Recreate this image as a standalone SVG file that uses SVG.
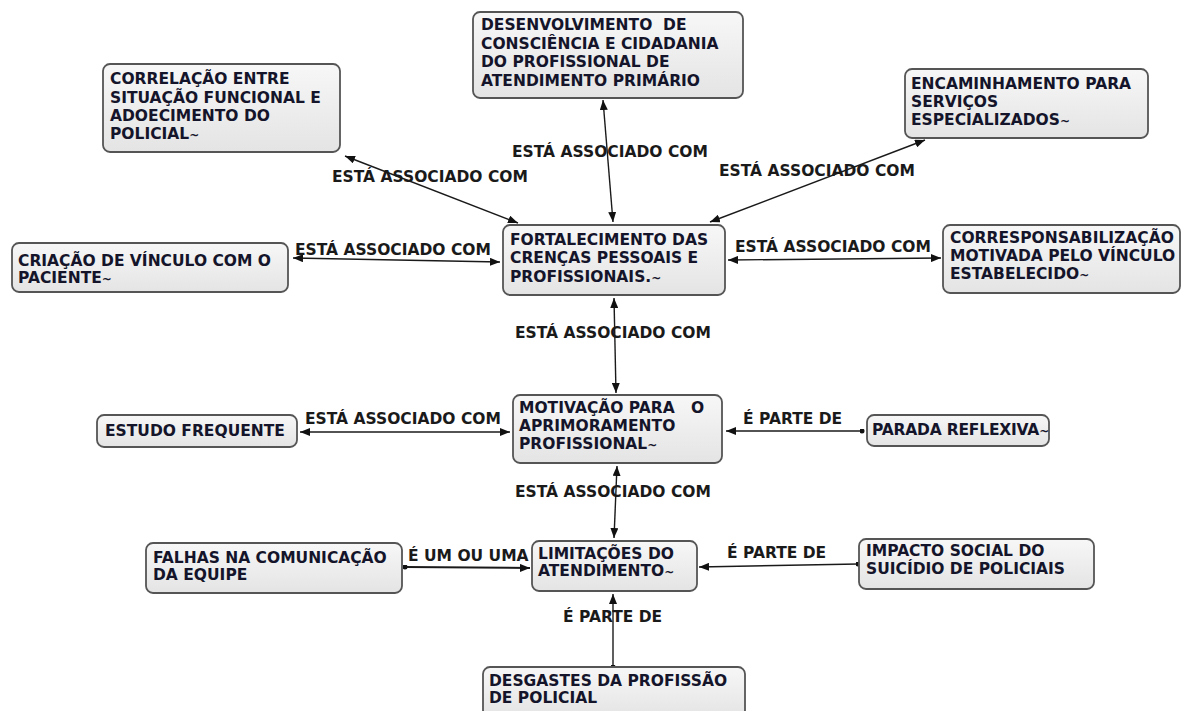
<svg xmlns="http://www.w3.org/2000/svg" width="1184" height="711" viewBox="0 0 1184 711">
  <defs>
    <linearGradient id="boxFill" x1="0" y1="0" x2="0" y2="1">
      <stop offset="0" stop-color="#f7f7f7"/>
      <stop offset="1" stop-color="#e4e4e4"/>
    </linearGradient>
    <marker id="arrow" viewBox="0 0 10 8" refX="10" refY="4" markerWidth="10" markerHeight="8" markerUnits="userSpaceOnUse" orient="auto-start-reverse">
      <path d="M0,0 L10,4 L0,8 z" fill="#111"/>
    </marker>
    <marker id="dot" viewBox="0 0 6 6" refX="3" refY="3" markerWidth="5" markerHeight="5" markerUnits="userSpaceOnUse">
      <circle cx="3" cy="3" r="3" fill="#111"/>
    </marker>
  </defs>
  <style>
    .box { fill: url(#boxFill); stroke: #555; stroke-width: 1.8; }
    .node text { font-family: "DejaVu Sans", Verdana, sans-serif; font-weight: bold; font-size: 15.5px; fill: #14142a; white-space: pre; }
    .link { stroke: #1a1a1a; stroke-width: 1.4; fill: none; }
    .both { marker-start: url(#arrow); marker-end: url(#arrow); }
    .one { marker-start: url(#dot); marker-end: url(#arrow); }
    .lbl { font-family: "DejaVu Sans", Verdana, sans-serif; font-weight: bold; font-size: 15.5px; fill: #1a1a1a; }
    .sq { font-size: 12px; }
  </style>

  <!-- connectors -->
  <g id="connectors">
    <line class="link both" x1="345" y1="156" x2="518" y2="223"/>
    <line class="link both" x1="603" y1="100" x2="613" y2="222"/>
    <line class="link both" x1="925" y1="140" x2="710" y2="222"/>
    <line class="link both" x1="293" y1="258" x2="500" y2="262"/>
    <line class="link both" x1="728" y1="260" x2="941" y2="258"/>
    <line class="link both" x1="614" y1="298" x2="616" y2="393"/>
    <line class="link both" x1="300" y1="432" x2="510" y2="432"/>
    <line class="link one" x1="862" y1="431" x2="726" y2="431"/>
    <line class="link both" x1="617" y1="466" x2="614" y2="538"/>
    <line class="link one" x1="405" y1="567" x2="530" y2="568" style="stroke-width:2"/>
    <line class="link one" x1="858" y1="564" x2="699" y2="567"/>
    <line class="link one" x1="613" y1="667" x2="613" y2="594"/>

    <text class="lbl" x="332" y="182">ESTÁ ASSOCIADO COM</text>
    <text class="lbl" x="512" y="157">ESTÁ ASSOCIADO COM</text>
    <text class="lbl" x="719" y="176">ESTÁ ASSOCIADO COM</text>
    <text class="lbl" x="295" y="255">ESTÁ ASSOCIADO COM</text>
    <text class="lbl" x="735" y="252">ESTÁ ASSOCIADO COM</text>
    <text class="lbl" x="515" y="338">ESTÁ ASSOCIADO COM</text>
    <text class="lbl" x="305" y="424">ESTÁ ASSOCIADO COM</text>
    <text class="lbl" x="743" y="424">É PARTE DE</text>
    <text class="lbl" x="515" y="497">ESTÁ ASSOCIADO COM</text>
    <text class="lbl" x="408" y="561">É UM OU UMA</text>
    <text class="lbl" x="727" y="558">É PARTE DE</text>
    <text class="lbl" x="563" y="622">É PARTE DE</text>
  </g>

  <!-- concepts -->
  <g id="n-desenvolvimento" class="node">
    <rect class="box" x="473" y="12" width="270" height="86" rx="7"/>
    <text x="481" y="30">DESENVOLVIMENTO  DE</text>
    <text x="481" y="48.5">CONSCIÊNCIA E CIDADANIA</text>
    <text x="481" y="67">DO PROFISSIONAL DE</text>
    <text x="481" y="85.5">ATENDIMENTO PRIMÁRIO</text>
  </g>

  <g id="n-correlacao" class="node">
    <rect class="box" x="103" y="64" width="237" height="88" rx="7"/>
    <text x="110" y="84">CORRELAÇÃO ENTRE</text>
    <text x="110" y="102.5">SITUAÇÃO FUNCIONAL E</text>
    <text x="110" y="121">ADOECIMENTO DO</text>
    <text x="110" y="139">POLICIAL<tspan class="sq">~</tspan></text>
  </g>

  <g id="n-encaminhamento" class="node">
    <rect class="box" x="905" y="69" width="243" height="69" rx="7"/>
    <text x="911" y="89">ENCAMINHAMENTO PARA</text>
    <text x="911" y="107">SERVIÇOS</text>
    <text x="911" y="125">ESPECIALIZADOS<tspan class="sq">~</tspan></text>
  </g>

  <g id="n-fortalecimento" class="node">
    <rect class="box" x="503" y="225" width="222" height="70" rx="7"/>
    <text x="510" y="244.5">FORTALECIMENTO DAS</text>
    <text x="510" y="263">CRENÇAS PESSOAIS E</text>
    <text x="510" y="282">PROFISSIONAIS.<tspan class="sq">~</tspan></text>
  </g>

  <g id="n-criacao" class="node">
    <rect class="box" x="12" y="243" width="276" height="49" rx="7"/>
    <text x="18" y="265.5">CRIAÇÃO DE VÍNCULO COM O</text>
    <text x="18" y="283">PACIENTE<tspan class="sq">~</tspan></text>
  </g>

  <g id="n-corresponsabilizacao" class="node">
    <rect class="box" x="943" y="225" width="237" height="68" rx="7"/>
    <text x="950" y="243">CORRESPONSABILIZAÇÃO</text>
    <text x="950" y="261">MOTIVADA PELO VÍNCULO</text>
    <text x="950" y="279">ESTABELECIDO<tspan class="sq">~</tspan></text>
  </g>

  <g id="n-motivacao" class="node">
    <rect class="box" x="513" y="395" width="209" height="68" rx="7"/>
    <text x="519" y="413">MOTIVAÇÃO PARA   O</text>
    <text x="519" y="431">APRIMORAMENTO</text>
    <text x="519" y="449">PROFISSIONAL<tspan class="sq">~</tspan></text>
  </g>

  <g id="n-estudo" class="node">
    <rect class="box" x="97" y="415" width="200" height="32" rx="7"/>
    <text x="105" y="435.5">ESTUDO FREQUENTE</text>
  </g>

  <g id="n-parada" class="node">
    <rect class="box" x="867" y="415" width="182" height="31" rx="7"/>
    <text x="872" y="435" letter-spacing="-0.2">PARADA REFLEXIVA<tspan class="sq">~</tspan></text>
  </g>

  <g id="n-falhas" class="node">
    <rect class="box" x="146" y="543" width="256" height="50" rx="7"/>
    <text x="153" y="563">FALHAS NA COMUNICAÇÃO</text>
    <text x="153" y="580">DA EQUIPE</text>
  </g>

  <g id="n-limitacoes" class="node">
    <rect class="box" x="532" y="541" width="165" height="50" rx="7"/>
    <text x="538" y="558.5">LIMITAÇÕES DO</text>
    <text x="538" y="576">ATENDIMENTO<tspan class="sq">~</tspan></text>
  </g>

  <g id="n-impacto" class="node">
    <rect class="box" x="859" y="539" width="235" height="50" rx="7"/>
    <text x="866" y="556">IMPACTO SOCIAL DO</text>
    <text x="866" y="574">SUICÍDIO DE POLICIAIS</text>
  </g>

  <g id="n-desgastes" class="node">
    <rect class="box" x="483" y="667" width="262" height="50" rx="7"/>
    <text x="489" y="686">DESGASTES DA PROFISSÃO</text>
    <text x="489" y="703">DE POLICIAL</text>
  </g>
</svg>
